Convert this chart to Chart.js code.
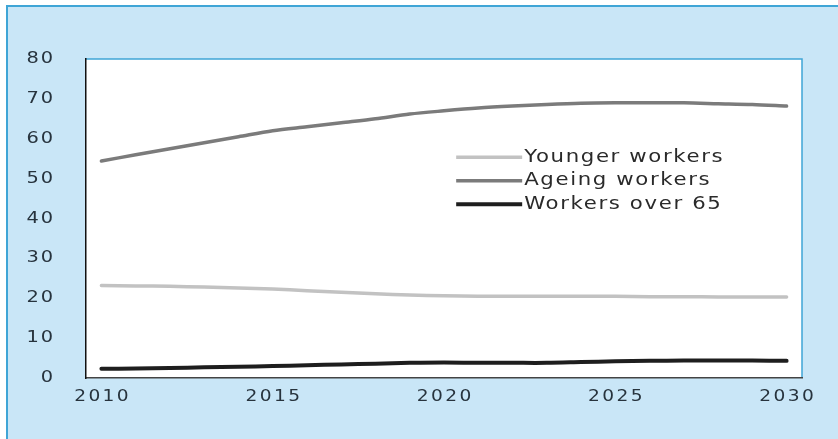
<!DOCTYPE html>
<html>
<head>
<meta charset="utf-8">
<script src="https://cdn.jsdelivr.net/npm/chart.js@4"></script>
<style>
  body { margin: 0; background: #fff; }
  #wrap { width: 838px; height: 439px; }
</style>
</head>
<body>
<div id="wrap"><canvas id="myChart"></canvas></div>
<script>
const years = [2010, 2011, 2012, 2013, 2014, 2015, 2016, 2017, 2018, 2019, 2020,
               2021, 2022, 2023, 2024, 2025, 2026, 2027, 2028, 2029, 2030];
const youngerWorkers = [23.2, 23.1, 23.0, 22.8, 22.6, 22.3, 21.9, 21.5, 21.1, 20.8, 20.6,
                        20.5, 20.5, 20.5, 20.5, 20.5, 20.4, 20.4, 20.3, 20.3, 20.3];
const ageingWorkers = [54.4, 56.0, 57.5, 59.0, 60.5, 62.0, 63.0, 64.0, 65.0, 66.2, 67.0,
                       67.7, 68.2, 68.6, 68.9, 69.0, 69.0, 69.0, 68.8, 68.6, 68.2];
const workersOver65 = [2.3, 2.4, 2.5, 2.7, 2.8, 3.0, 3.2, 3.4, 3.6, 3.8, 3.9,
                       3.8, 3.8, 3.8, 4.0, 4.2, 4.3, 4.4, 4.4, 4.4, 4.3];
const seriesNames = ['Younger workers', 'Ageing workers', 'Workers over 65'];
const yTicks = [0, 10, 20, 30, 40, 50, 60, 70, 80];
const xTicks = [2010, 2015, 2020, 2025, 2030];

const toPoints = (vals) => vals.map((v, i) => ({ x: years[i], y: v }));

// wide, slightly spaced lettering used for ticks and legend
const wideText = (ctx, text, x, y, align, stretch, spacing) => {
    ctx.save();
    ctx.translate(x, y);
    ctx.scale(stretch, 1);
    ctx.letterSpacing = spacing + 'px';
    const w = ctx.measureText(text).width - spacing;
    let sx = 0;
    if (align === 'center') sx = -w / 2;
    if (align === 'right') sx = -w;
    ctx.textAlign = 'left';
    ctx.fillText(text, sx, 0);
    ctx.restore();
};

// light blue panel behind everything, white plot area, blue frame lines
const panelPlugin = {
    id: 'panel',
    beforeDraw(chart) {
        const { ctx, chartArea: a } = chart;
        ctx.save();
        ctx.fillStyle = '#c9e6f7';
        ctx.fillRect(7, 6, chart.width - 7, chart.height - 6);
        ctx.fillStyle = '#3fa5d6';
        ctx.fillRect(7, 5, chart.width - 7, 2);
        ctx.fillRect(6, 5, 2, chart.height - 5);
        ctx.fillStyle = '#ffffff';
        ctx.fillRect(a.left, a.top, a.right - a.left, a.bottom - a.top);
        ctx.strokeStyle = '#3fa5d6';
        ctx.lineWidth = 1.5;
        ctx.beginPath();
        ctx.moveTo(a.left, a.top);
        ctx.lineTo(a.right, a.top);
        ctx.lineTo(a.right, a.bottom);
        ctx.stroke();
        ctx.restore();
    },
    afterDraw(chart) {
        const { ctx, scales } = chart;
        ctx.save();
        ctx.fillStyle = '#27333d';
        ctx.font = '15.5px "DejaVu Sans"';
        ctx.textBaseline = 'middle';
        yTicks.forEach(v => {
            wideText(ctx, String(v), 53, scales.y.getPixelForValue(v), 'right', 1.25, 1.5);
        });
        xTicks.forEach(v => {
            wideText(ctx, String(v), scales.x.getPixelForValue(v), 397, 'center', 1.2, 2);
        });
        ctx.restore();
    }
};

// legend inside the plot area, to the right of centre
const insideLegend = {
    id: 'insideLegend',
    afterDatasetsDraw(chart) {
        const { ctx, chartArea: a } = chart;
        const x0 = a.left + (a.right - a.left) * 0.517;
        const y0 = a.top + (a.bottom - a.top) * 0.308;
        ctx.save();
        ctx.font = '17px "DejaVu Sans"';
        ctx.textBaseline = 'middle';
        ctx.fillStyle = '#2a2a2a';
        chart.data.datasets.forEach((ds, i) => {
            const y = y0 + i * 23.5;
            ctx.strokeStyle = ds.borderColor;
            ctx.lineWidth = ds.borderWidth;
            ctx.beginPath();
            ctx.moveTo(x0, y);
            ctx.lineTo(x0 + 66, y);
            ctx.stroke();
            wideText(ctx, ds.label, x0 + 68, y, 'left', 1.25, 1.3);
        });
        ctx.restore();
    }
};

const ctx = document.getElementById('myChart');
new Chart(ctx, {
    type: 'line',
    data: {
        datasets: [
            {
                label: seriesNames[0],
                data: toPoints(youngerWorkers),
                borderColor: '#c2c2c2',
                borderWidth: 3.5,
            },
            {
                label: seriesNames[1],
                data: toPoints(ageingWorkers),
                borderColor: '#7b7b7b',
                borderWidth: 3.5,
            },
            {
                label: seriesNames[2],
                data: toPoints(workersOver65),
                borderColor: '#1e1e1e',
                borderWidth: 4,
            },
        ]
    },
    options: {
        responsive: true,
        maintainAspectRatio: false,
        animation: false,
        events: [],
        elements: {
            point: { radius: 0 },
            line: { tension: 0.3, borderCapStyle: 'round' }
        },
        layout: {
            padding: { left: 25, top: 59, right: 36, bottom: 20 }
        },
        plugins: {
            legend: { display: false },
            tooltip: { enabled: false }
        },
        scales: {
            x: {
                type: 'linear',
                min: 2009.55,
                max: 2030.45,
                afterBuildTicks: (scale) => { scale.ticks = xTicks.map(v => ({ value: v })); },
                afterFit: (scale) => { scale.height = 41; },
                border: { display: true, color: '#444', width: 1.5 },
                grid: { display: false },
                ticks: { display: false }
            },
            y: {
                min: 0,
                max: 80,
                afterBuildTicks: (scale) => { scale.ticks = yTicks.map(v => ({ value: v })); },
                afterFit: (scale) => { scale.width = 61; },
                border: { display: true, color: '#111', width: 1.5 },
                grid: { display: false },
                ticks: { display: false }
            }
        }
    },
    plugins: [panelPlugin, insideLegend]
});
</script>
</body>
</html>
